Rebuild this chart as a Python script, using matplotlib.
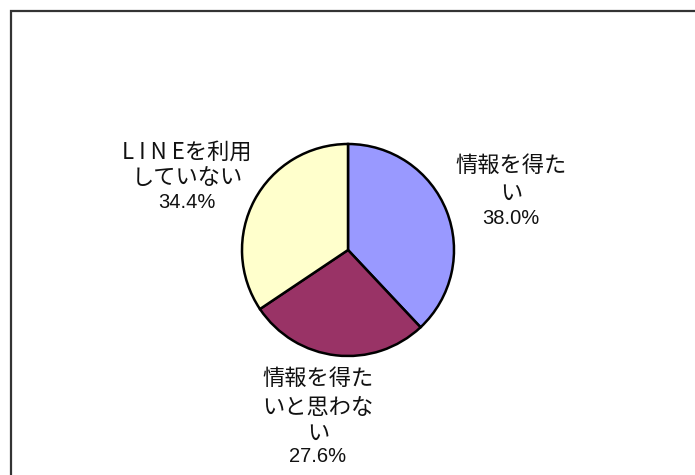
import matplotlib
matplotlib.use("Agg")
import matplotlib.pyplot as plt
from matplotlib.patches import Rectangle

categories = ["情報を得たい", "情報を得たいと思わない", "LINEを利用していない"]
values = [38.0, 27.6, 34.4]
colors = ["#9999FF", "#993366", "#FFFFCC"]
label_lines = [["情報を得た", "い"], ["情報を得た", "いと思わな", "い"], ["L I N Eを利用", "していない"]]
pct_labels = ["38.0%", "27.6%", "34.4%"]

W, H = 695, 475
fig = plt.figure(figsize=(W / 100, H / 100), dpi=100)
ax = fig.add_axes([0, 0, 1, 1])

cx, cy, r = 348, H - 250, 106
ax.pie(values, colors=colors, startangle=90, counterclock=False, center=(cx, cy), radius=r,
       wedgeprops=dict(edgecolor="black", linewidth=1.8), frame=True)
ax.set_xlim(0, W)
ax.set_ylim(0, H)
ax.set_aspect("equal")
ax.axis("off")

# border (top & left visible)
ax.add_patch(Rectangle((11, -10), W + 20, H - 11 + 10, fill=False, ec="#333333", lw=1.6))

jp = ["Noto Sans CJK JP", "DejaVu Sans"]
num = ["Liberation Sans", "DejaVu Sans"]

label_x = [511, 318, 187]
label_y = [[165, 193], [378, 407, 433], [152, 177]]
pct_y = [218, 457, 202]

for i in range(len(values)):
    for line, y in zip(label_lines[i], label_y[i]):
        ax.text(label_x[i], H - y, line, ha="center", va="center", fontsize=16, family=jp, color="#111111")
    ax.text(label_x[i], H - pct_y[i], pct_labels[i], ha="center", va="center", fontsize=14.5, family=num, color="#111111")

fig.savefig("out.png", dpi=100)
